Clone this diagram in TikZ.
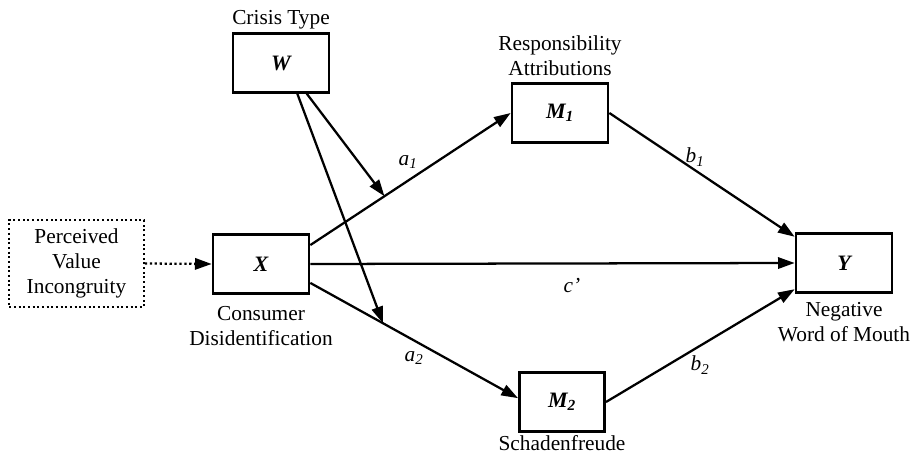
\documentclass[tikz,border=0pt]{standalone}
\usepackage{fontspec}
\setmainfont{Liberation Serif}
\usetikzlibrary{arrows.meta}
\begin{document}
\begin{tikzpicture}[x=.75pt,y=-.75pt,font=\fontsize{16}{18.8}\selectfont,
  var/.style={draw,line width=2pt,minimum width=72pt,minimum height=44pt,font=\fontsize{16.5}{18}\selectfont\bfseries\itshape},
  link/.style={line width=1.7pt,-{Triangle[length=12.5pt,width=8.5pt]}},
  coef/.style={font=\fontsize{16}{18}\selectfont\itshape}]
\useasboundingbox (0,0) rectangle (914,456);
% variables
\node[var] (W) at (281,63) {W};
\node[var] (X) at (261,264) {X};
\node[var] (M1) at (560,113) {M\textsubscript{1}};
\node[var,minimum width=64pt] (M2) at (562,402) {M\textsubscript{2}};
\node[var] (Y) at (844,263) {Y};
\node[draw,dotted,line width=1.5pt,minimum width=101pt,minimum height=65pt,align=center] (pvi) at (76.5,263.5) {Perceived\\Value\\Incongruity};
% captions
\node (crisis) at (281,20) {Crisis Type};
\node[align=center] (resp) at (560,56) {Responsibility\\Attributions};
\node[align=center] (cons) at (261,326) {Consumer\\Disidentification};
\node[align=center] (neg) at (844,322) {Negative\\Word of Mouth};
\node (schad) at (562,443) {Schadenfreude};
% paths
\draw[link] (X.21) -- coordinate[pos=.37] (ma1) (M1.west);
\draw[link] (X.-21) -- coordinate[pos=.35] (ma2) (M2.175);
\draw[link] (X.east) -- (Y.west);
\draw[link] (M1.east) -- (Y.152);
\draw[link] (M2.east) -- (Y.-152);
\draw[link,dotted] (pvi.east) -- (X.west);
\draw[link] (W.-50) -- (ma1);
\draw[link] (W.-62) -- (ma2);
% coefficients
\node[coef] (a1) at (408,162) {a\textsubscript{1}};
\node[coef] (a2) at (414,358) {a\textsubscript{2}};
\node[coef] (b1) at (695,157) {b\textsubscript{1}};
\node[coef] (b2) at (700,365) {b\textsubscript{2}};
\node[coef] (c) at (572,286) {c'};
\end{tikzpicture}
\end{document}
